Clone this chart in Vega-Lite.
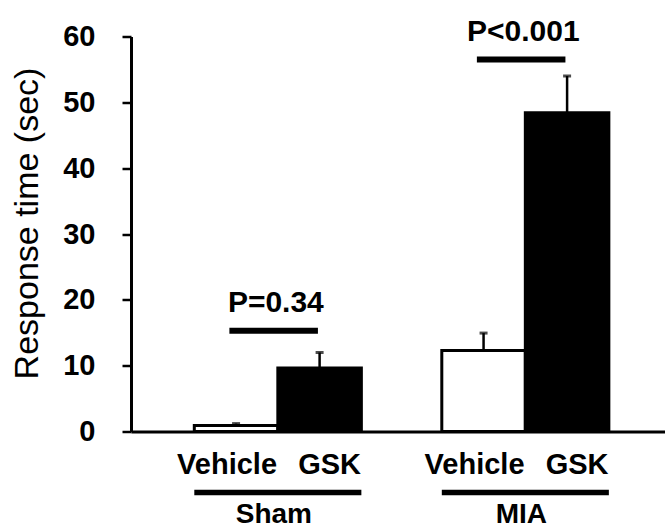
{
  "$schema": "https://vega.github.io/schema/vega-lite/v6.json",
  "width": 534,
  "height": 395,
  "autosize": {"type": "none"},
  "padding": {"left": 131, "top": 36.5, "right": 0, "bottom": 96.5},
  "background": "white",
  "config": {"font": "Liberation Sans", "view": {"stroke": null}},
  "datasets": {
    "bars": [
      {"group": "Sham", "treatment": "Vehicle", "mean": 0.9, "upper": 1.2},
      {"group": "Sham", "treatment": "GSK", "mean": 9.65, "upper": 12.0},
      {"group": "MIA", "treatment": "Vehicle", "mean": 12.3, "upper": 14.95},
      {"group": "MIA", "treatment": "GSK", "mean": 48.4, "upper": 54.0}
    ],
    "pvals": [
      {"group": "Sham", "label": "P=0.34", "level": 15.3},
      {"group": "MIA", "label": "P<0.001", "level": 56.5}
    ],
    "groups": [{"group": "Sham"}, {"group": "MIA"}]
  },
  "layer": [
    {
      "data": {"name": "bars"},
      "mark": {"type": "bar", "stroke": "black", "strokeWidth": 3},
      "encoding": {
        "x": {
          "field": "group", "type": "nominal",
          "scale": {"domain": ["Sham", "MIA"], "paddingInner": 0.325, "paddingOuter": 0.2413, "align": 0.53},
          "axis": {"labels": false, "ticks": false, "title": null, "domainColor": "black", "domainWidth": 3, "grid": false}
        },
        "xOffset": {"field": "treatment", "type": "nominal", "scale": {"domain": ["Vehicle", "GSK"], "paddingInner": 0, "paddingOuter": 0}},
        "y": {
          "field": "mean", "type": "quantitative",
          "scale": {"domain": [0, 60], "nice": false, "zero": true},
          "axis": {
            "values": [0, 10, 20, 30, 40, 50, 60],
            "title": "Response time (sec)",
            "titleFont": "Liberation Sans",
            "titleFontSize": 34,
            "titleFontWeight": "normal",
            "titleColor": "black",
            "titleX": -104,
            "titleY": 186.5,
            "titleAngle": -90,
            "titleBaseline": "middle",
            "titleAlign": "center",
            "labelFontSize": 29,
            "labelFontWeight": "bold",
            "labelColor": "black",
            "labelPadding": 27,
            "tickSize": 9,
            "tickWidth": 2.5,
            "tickColor": "black",
            "domainColor": "black",
            "domainWidth": 3,
            "grid": false
          }
        },
        "fill": {"field": "treatment", "type": "nominal", "scale": {"domain": ["Vehicle", "GSK"], "range": ["white", "black"]}, "legend": null}
      }
    },
    {
      "data": {"name": "bars"},
      "mark": {"type": "rule", "color": "black", "strokeWidth": 2.5},
      "encoding": {
        "x": {"field": "group", "type": "nominal"},
        "xOffset": {"field": "treatment", "type": "nominal"},
        "y": {"field": "mean", "type": "quantitative"},
        "y2": {"field": "upper"}
      }
    },
    {
      "data": {"name": "bars"},
      "mark": {"type": "tick", "color": "black", "size": 8, "thickness": 3, "orient": "horizontal"},
      "encoding": {
        "x": {"field": "group", "type": "nominal"},
        "xOffset": {"field": "treatment", "type": "nominal"},
        "y": {"field": "upper", "type": "quantitative"}
      }
    },
    {
      "data": {"name": "pvals"},
      "mark": {"type": "rule", "color": "black", "strokeWidth": 6},
      "encoding": {
        "x": {"field": "group", "type": "nominal", "bandPosition": 0.21},
        "x2": {"field": "group", "bandPosition": 0.74},
        "y": {"field": "level", "type": "quantitative"}
      }
    },
    {
      "data": {"name": "pvals"},
      "mark": {"type": "text", "color": "black", "fontSize": 30, "fontWeight": "bold", "baseline": "alphabetic", "align": "center", "dy": -19, "dx": -2},
      "encoding": {
        "x": {"field": "group", "type": "nominal"},
        "y": {"field": "level", "type": "quantitative"},
        "text": {"field": "label"}
      }
    },
    {
      "data": {"name": "bars"},
      "transform": [{"filter": "datum.treatment === 'Vehicle'"}],
      "mark": {"type": "text", "color": "black", "fontSize": 29, "fontWeight": "bold", "baseline": "alphabetic", "align": "center", "dx": -9},
      "encoding": {
        "x": {"field": "group", "type": "nominal"},
        "xOffset": {"field": "treatment", "type": "nominal"},
        "y": {"datum": -6.46, "type": "quantitative"},
        "text": {"field": "treatment"}
      }
    },
    {
      "data": {"name": "bars"},
      "transform": [{"filter": "datum.treatment === 'GSK'"}],
      "mark": {"type": "text", "color": "black", "fontSize": 29, "fontWeight": "bold", "baseline": "alphabetic", "align": "center", "dx": 10},
      "encoding": {
        "x": {"field": "group", "type": "nominal"},
        "xOffset": {"field": "treatment", "type": "nominal"},
        "y": {"datum": -6.46, "type": "quantitative"},
        "text": {"field": "treatment"}
      }
    },
    {
      "data": {"name": "groups"},
      "mark": {"type": "rule", "color": "black", "strokeWidth": 5.5},
      "encoding": {
        "x": {"field": "group", "type": "nominal", "bandPosition": 0},
        "x2": {"field": "group", "bandPosition": 1},
        "y": {"datum": -9.27, "type": "quantitative"}
      }
    },
    {
      "data": {"name": "groups"},
      "mark": {"type": "text", "color": "black", "fontSize": 28, "fontWeight": "bold", "baseline": "alphabetic", "align": "center", "dx": -4},
      "encoding": {
        "x": {"field": "group", "type": "nominal"},
        "y": {"datum": -13.9, "type": "quantitative"},
        "text": {"field": "group"}
      }
    }
  ]
}
